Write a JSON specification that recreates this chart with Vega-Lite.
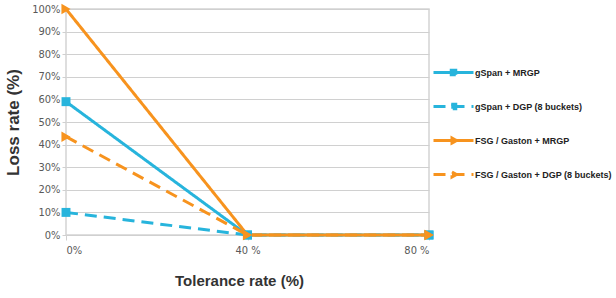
{
  "$schema": "https://vega.github.io/schema/vega-lite/v6.json",
  "width": 363,
  "height": 226,
  "autosize": {"type": "none"},
  "padding": {"left": 66, "top": 9, "right": 187, "bottom": 63},
  "background": "#ffffff",
  "config": {
    "view": {"stroke": "#d4d4d4", "strokeWidth": 1.5},
    "axis": {"labelFont": "DejaVu Sans Condensed", "labelFontSize": 11, "labelColor": "#595959", "titleFont": "Liberation Sans", "titleFontWeight": "bold", "titleFontSize": 17, "titleColor": "#333333", "gridColor": "#d0d0d0", "tickColor": "#d0d0d0", "domain": false}
  },
  "data": {
    "values": [
      {"series": "gSpan + MRGP", "x": 0, "y": 0.59},
      {"series": "gSpan + MRGP", "x": 40, "y": 0},
      {"series": "gSpan + MRGP", "x": 80, "y": 0},
      {"series": "gSpan + DGP (8 buckets)", "x": 0, "y": 0.10},
      {"series": "gSpan + DGP (8 buckets)", "x": 40, "y": 0},
      {"series": "gSpan + DGP (8 buckets)", "x": 80, "y": 0},
      {"series": "FSG / Gaston + MRGP", "x": 0, "y": 1.0},
      {"series": "FSG / Gaston + MRGP", "x": 40, "y": 0},
      {"series": "FSG / Gaston + MRGP", "x": 80, "y": 0},
      {"series": "FSG / Gaston + DGP (8 buckets)", "x": 0, "y": 0.435},
      {"series": "FSG / Gaston + DGP (8 buckets)", "x": 40, "y": 0},
      {"series": "FSG / Gaston + DGP (8 buckets)", "x": 80, "y": 0}
    ]
  },
  "encoding": {
    "x": {"field": "x", "type": "quantitative", "scale": {"domain": [0, 80], "nice": false, "zero": false},
      "axis": {"values": [0, 40, 80], "grid": false, "tickSize": 5, "labelPadding": 4, "labelExpr": "datum.value == 0 ? '0%' : datum.value + ' %'", "title": "Tolerance rate (%)", "titleFontSize": 15, "titleX": 173, "titleY": 50, "titleBaseline": "alphabetic"}},
    "y": {"field": "y", "type": "quantitative", "scale": {"domain": [0, 1], "nice": false},
      "axis": {"values": [0, 0.1, 0.2, 0.3, 0.4, 0.5, 0.6, 0.7, 0.8, 0.9, 1], "format": ".0%", "tickSize": 4, "labelPadding": 2, "title": "Loss rate (%)", "titleX": -44}},
    "color": {"field": "series", "type": "nominal",
      "scale": {"domain": ["gSpan + MRGP", "gSpan + DGP (8 buckets)", "FSG / Gaston + MRGP", "FSG / Gaston + DGP (8 buckets)"], "range": ["#27b4dc", "#27b4dc", "#f7931e", "#f7931e"]},
      "legend": {"orient": "none", "legendX": 381, "legendY": 57, "title": null, "padding": 0, "symbolSize": 100, "symbolStrokeWidth": 3, "labelFont": "Liberation Sans", "labelFontWeight": "bold", "labelFontSize": 9, "labelColor": "#222222", "labelOffset": 15, "rowPadding": 17, "labelLimit": 200}}
  },
  "layer": [
    {
      "mark": {"type": "line", "strokeWidth": 3},
      "encoding": {
        "strokeDash": {"field": "series", "type": "nominal",
          "scale": {"domain": ["gSpan + MRGP", "gSpan + DGP (8 buckets)", "FSG / Gaston + MRGP", "FSG / Gaston + DGP (8 buckets)"], "range": [[1, 0], [12, 7], [1, 0], [12, 7]]}}
      }
    },
    {
      "transform": [{"filter": "indexof(datum.series, 'gSpan') == 0"}],
      "mark": {"type": "point", "shape": "square", "filled": true, "size": 80, "opacity": 1}
    },
    {
      "transform": [{"filter": "indexof(datum.series, 'FSG') == 0"}],
      "mark": {"type": "point", "shape": "triangle-right", "filled": true, "size": 110, "opacity": 1}
    },
    {
      "transform": [{"filter": "datum.x > 999"}],
      "mark": {"type": "point", "filled": true, "opacity": 1},
      "encoding": {
        "shape": {"field": "series", "type": "nominal",
          "scale": {"domain": ["gSpan + MRGP", "gSpan + DGP (8 buckets)", "FSG / Gaston + MRGP", "FSG / Gaston + DGP (8 buckets)"],
            "range": ["M-4,0L4,0M-0.45,-0.45L0.45,-0.45L0.45,0.45L-0.45,0.45Z", "M-4,0L4,0M-0.45,-0.45L0.45,-0.45L0.45,0.45L-0.45,0.45Z", "M-4,0L4,0M-0.3,-0.5L0.6,0L-0.3,0.5Z", "M-4,0L4,0M-0.3,-0.5L0.6,0L-0.3,0.5Z"]}}
      }
    }
  ]
}
